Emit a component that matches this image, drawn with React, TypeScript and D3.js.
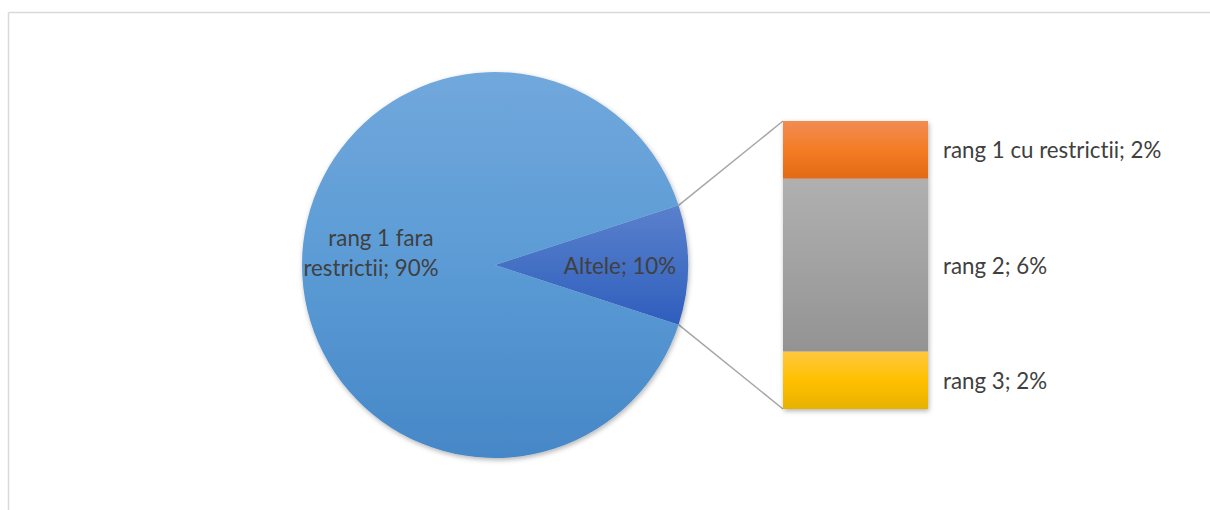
import React from "react";
import * as d3 from "d3";

const pieCategories = ["Altele", "rang 1 fara restrictii"];
const pieValues = [10, 90];
const barCategories = ["rang 3", "rang 2", "rang 1 cu restrictii"];
const barValues = [2, 6, 2];

const W = 1210;
const H = 510;
const cx = 495;
const cy = 265;
const R = 193;
const barX0 = 783;
const barX1 = 928;
const barTop = 121;
const barBottom = 409;
const FONT = "Lato, 'Open Sans', sans-serif";
const FS = 22.3;
const TXT = "#404040";

const pieGrad = [
  ["#5b80cc", "#4470c4", "#2f5ebd"],
  ["#71a8dc", "#5b9bd5", "#4687c7"],
];
const barGrad = [
  ["#ffc83f", "#ffc000", "#e8b100"],
  ["#b0b0b0", "#a2a2a2", "#939393"],
  ["#f18c52", "#f47c25", "#e26a14"],
];

export default function App() {
  const deg = Math.PI / 180;
  const pie = d3
    .pie<number>()
    .sort(null)
    .startAngle(72 * deg)
    .endAngle(432 * deg);
  const arcs = pie(pieValues);
  const arcGen = d3.arc<d3.PieArcDatum<number>>().innerRadius(0).outerRadius(R);

  const total = d3.sum(barValues);
  const y = d3.scaleLinear().domain([0, total]).range([barBottom, barTop]);
  let acc = 0;
  const segs = barValues.map((v, i) => {
    const s = { i, y0: acc, y1: acc + v, v };
    acc += v;
    return s;
  });

  const a0 = arcs[0].startAngle;
  const a1 = arcs[0].endAngle;
  const p0 = [cx + R * Math.sin(a0), cy - R * Math.cos(a0)];
  const p1 = [cx + R * Math.sin(a1), cy - R * Math.cos(a1)];

  return (
    <svg width={W} height={H} style={{ position: "absolute", left: 0, top: 0 }}>
      <defs>
        {pieGrad.map((g, i) => (
          <linearGradient key={i} id={`pg${i}`} x1="0" y1="0" x2="0" y2="1">
            <stop offset="0" stopColor={g[0]} />
            <stop offset="0.5" stopColor={g[1]} />
            <stop offset="1" stopColor={g[2]} />
          </linearGradient>
        ))}
        {barGrad.map((g, i) => (
          <linearGradient key={i} id={`bg${i}`} x1="0" y1="0" x2="0" y2="1">
            <stop offset="0" stopColor={g[0]} />
            <stop offset="0.5" stopColor={g[1]} />
            <stop offset="1" stopColor={g[2]} />
          </linearGradient>
        ))}
        <filter id="shadow" x="-10%" y="-10%" width="120%" height="120%">
          <feDropShadow dx="1" dy="2" stdDeviation="2.5" floodColor="#000" floodOpacity="0.3" />
        </filter>
      </defs>
      <rect x={0} y={0} width={W} height={H} fill="#fff" />
      <line x1={8.5} y1={12.5} x2={W} y2={12.5} stroke="#d9d9d9" strokeWidth={1.5} />
      <line x1={8.5} y1={12.5} x2={8.5} y2={H} stroke="#d9d9d9" strokeWidth={1.5} />

      <line x1={p0[0]} y1={p0[1]} x2={barX0} y2={barTop} stroke="#a6a6a6" strokeWidth={1.5} />
      <line x1={p1[0]} y1={p1[1]} x2={barX0} y2={barBottom} stroke="#a6a6a6" strokeWidth={1.5} />

      <g transform={`translate(${cx},${cy})`} filter="url(#shadow)">
        {arcs.map((a, i) => (
          <path key={i} d={arcGen(a) || ""} fill={`url(#pg${i})`} />
        ))}
      </g>

      <g filter="url(#shadow)">
        {segs.map((s) => (
          <rect key={s.i} x={barX0} y={y(s.y1)} width={barX1 - barX0}
            height={y(s.y0) - y(s.y1)} fill={`url(#bg${s.i})`} />
        ))}
      </g>

      <g fontFamily={FONT} fontSize={FS} fill={TXT} style={{ fontVariantLigatures: "none" }}>
        <text x={620} y={265} textAnchor="middle" dominantBaseline="central">
          {`${pieCategories[0]}; ${pieValues[0]}%`}
        </text>
        <text x={381} y={237} textAnchor="middle" dominantBaseline="central">rang 1 fara</text>
        <text x={371} y={267} textAnchor="middle" dominantBaseline="central">
          {`restrictii; ${pieValues[1]}%`}
        </text>
        {segs.map((s) => (
          <text key={s.i} x={943} y={(y(s.y0) + y(s.y1)) / 2} dominantBaseline="central">
            {`${barCategories[s.i]}; ${s.v}%`}
          </text>
        ))}
      </g>
    </svg>
  );
}
